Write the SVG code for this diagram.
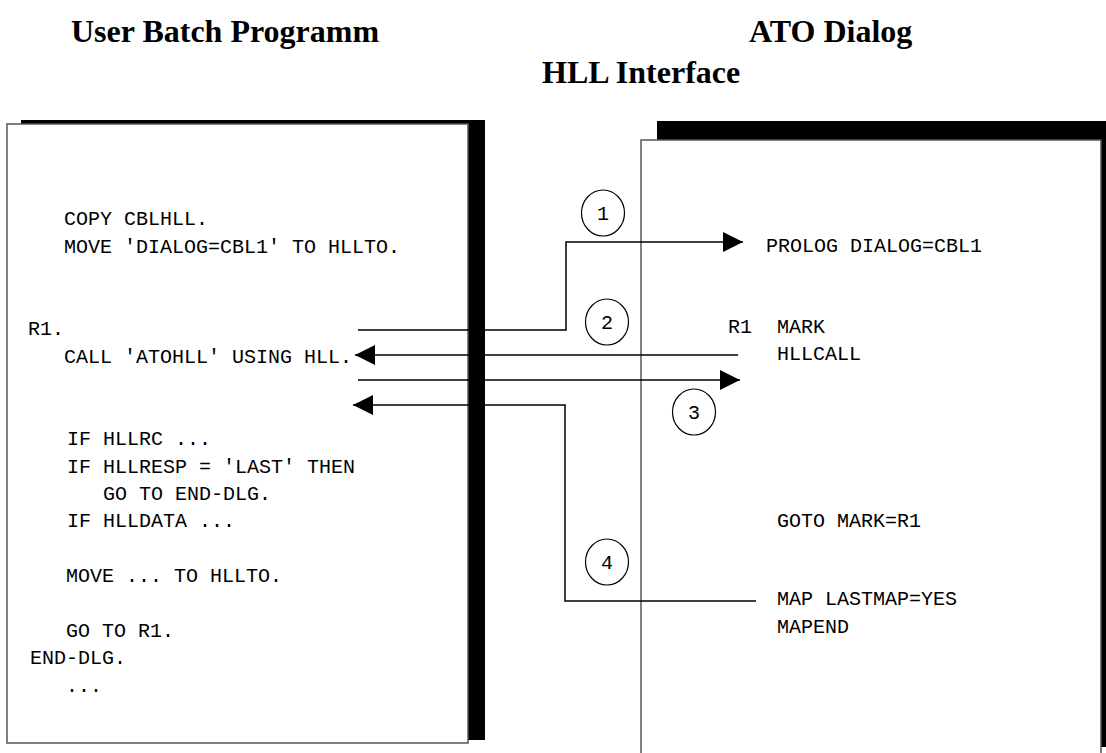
<svg xmlns="http://www.w3.org/2000/svg" width="1106" height="753" viewBox="0 0 1106 753">
<style>
.title{font-family:"Liberation Serif","Times New Roman",serif;font-weight:bold;font-size:32px;fill:#000}
.code{font-family:"Liberation Mono","Courier New",monospace;font-size:20px;fill:#000;white-space:pre}
.num{font-family:"Liberation Mono","Courier New",monospace;font-size:20px;fill:#000;text-anchor:middle}
.shadow{fill:#000}
.page{fill:#fff;stroke:#555;stroke-width:1.5}
.conn{fill:none;stroke:#000;stroke-width:1.5}
.badge{fill:#fff;stroke:#000;stroke-width:1.2}
</style>
<defs>
<marker id="arr" markerUnits="userSpaceOnUse" markerWidth="20" markerHeight="20" refX="20" refY="10" orient="auto">
<path d="M0,0 L20,10 L0,20 Z" fill="#000"/>
</marker>
</defs>
<rect width="1106" height="753" fill="#fff"/>
<g id="titles">
<text class="title" x="71" y="42">User Batch Programm</text>
<text class="title" x="749" y="42">ATO Dialog</text>
<text class="title" x="542" y="83">HLL Interface</text>
</g>
<g id="user-program">
<rect class="shadow" x="21" y="120" width="464" height="620"/>
<rect class="page" x="7" y="124" width="461" height="619"/>
<text class="code" x="64" y="225">COPY CBLHLL.</text>
<text class="code" x="64" y="253">MOVE 'DIALOG=CBL1' TO HLLTO.</text>
<text class="code" x="28" y="335">R1.</text>
<text class="code" x="64" y="363">CALL 'ATOHLL' USING HLL.</text>
<text class="code" x="67" y="445">IF HLLRC ...</text>
<text class="code" x="67" y="473">IF HLLRESP = 'LAST' THEN</text>
<text class="code" x="103" y="500">GO TO END-DLG.</text>
<text class="code" x="67" y="527">IF HLLDATA ...</text>
<text class="code" x="66" y="582">MOVE ... TO HLLTO.</text>
<text class="code" x="66" y="637">GO TO R1.</text>
<text class="code" x="30" y="664">END-DLG.</text>
<text class="code" x="66" y="692">...</text>
</g>
<g id="ato-dialog">
<rect class="shadow" x="657" y="121" width="460" height="626"/>
<rect class="page" x="641" y="140" width="460" height="640"/>
<text class="code" x="766" y="252">PROLOG DIALOG=CBL1</text>
<text class="code" x="728" y="333">R1</text>
<text class="code" x="777" y="333">MARK</text>
<text class="code" x="777" y="360">HLLCALL</text>
<text class="code" x="777" y="527">GOTO MARK=R1</text>
<text class="code" x="777" y="605">MAP LASTMAP=YES</text>
<text class="code" x="777" y="633">MAPEND</text>
</g>
<g id="connectors">
<path class="conn" d="M358,330 H566 V242 H743" marker-end="url(#arr)"/>
<path class="conn" d="M738,355 H355" marker-end="url(#arr)"/>
<path class="conn" d="M358,380 H740" marker-end="url(#arr)"/>
<path class="conn" d="M756,601 H565 V405 H353" marker-end="url(#arr)"/>
</g>
<g id="step-1"><ellipse class="badge" cx="603" cy="213" rx="21.5" ry="23"/><text class="num" x="603" y="220">1</text></g>
<g id="step-2"><ellipse class="badge" cx="607" cy="322" rx="21.5" ry="23"/><text class="num" x="607" y="329">2</text></g>
<g id="step-3"><ellipse class="badge" cx="694" cy="412" rx="21.5" ry="23"/><text class="num" x="694" y="419">3</text></g>
<g id="step-4"><ellipse class="badge" cx="607" cy="562" rx="21.5" ry="23"/><text class="num" x="607" y="569">4</text></g>
</svg>
